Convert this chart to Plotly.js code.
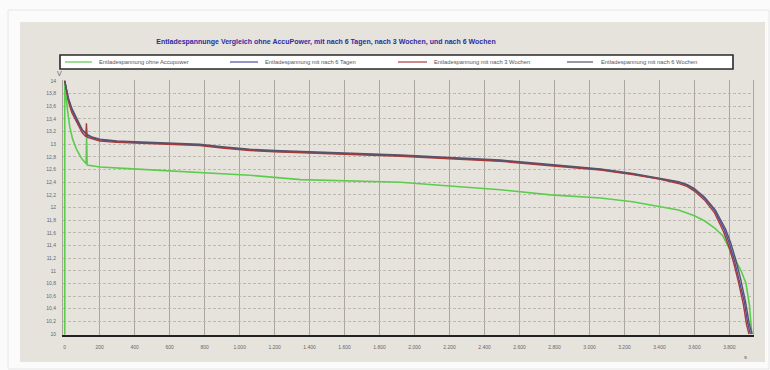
<!DOCTYPE html>
<html>
<head>
<meta charset="utf-8">
<script src="https://cdn.plot.ly/plotly-3.0.1.min.js"></script>
<style>html,body{margin:0;padding:0;background:#fbfbfb;}#chart{width:770px;height:370px;}</style>
</head>
<body>
<div id="chart"></div>
<script>
// ---- data ----
var seriesNames = ["Entladespannung ohne Accupower", "Entladespannung mit nach 6 Tagen", "Entladespannung mit nach 3 Wochen", "Entladespannung mit nach 6 Wochen"];

var tOhne = [0, 0, 5, 11, 20, 29, 45, 69, 95, 122, 125, 128, 200, 389, 600, 771, 1057, 1349, 1634, 1920, 2200, 2491, 2777, 3063, 3246, 3400, 3509, 3600, 3657, 3714, 3763, 3790, 3829, 3867, 3895, 3915, 3928];
var vOhne = [10.0, 14.0, 13.8, 13.62, 13.45, 13.27, 13.08, 12.91, 12.78, 12.69, 13.12, 12.67, 12.64, 12.61, 12.58, 12.55, 12.51, 12.44, 12.42, 12.40, 12.34, 12.28, 12.20, 12.15, 12.09, 12.02, 11.96, 11.87, 11.79, 11.68, 11.55, 11.40, 11.20, 11.00, 10.80, 10.45, 10.0];

var t6Tage = [0, 10, 20, 40, 68, 100, 130, 160, 200, 300, 400, 500, 600, 771, 900, 1057, 1200, 1400, 1634, 1920, 2200, 2491, 2777, 3063, 3246, 3400, 3509, 3560, 3600, 3657, 3714, 3771, 3800, 3829, 3857, 3886, 3905, 3920];
var v6Tage = [14.0, 13.85, 13.72, 13.55, 13.38, 13.22, 13.14, 13.10, 13.07, 13.04, 13.03, 13.02, 13.01, 12.99, 12.95, 12.91, 12.89, 12.87, 12.85, 12.82, 12.78, 12.74, 12.67, 12.60, 12.53, 12.46, 12.40, 12.35, 12.28, 12.15, 11.96, 11.65, 11.43, 11.16, 10.85, 10.50, 10.17, 10.0];

var t3Wochen = [0, 10, 20, 40, 68, 100, 120, 124, 128, 160, 200, 300, 400, 500, 600, 771, 900, 1057, 1200, 1400, 1634, 1920, 2200, 2491, 2777, 3063, 3246, 3400, 3509, 3560, 3600, 3657, 3714, 3766, 3795, 3824, 3852, 3880, 3898, 3912];
var v3Wochen = [14.0, 13.82, 13.68, 13.50, 13.34, 13.18, 13.12, 13.33, 13.11, 13.08, 13.05, 13.03, 13.02, 13.01, 13.00, 12.98, 12.94, 12.90, 12.88, 12.86, 12.84, 12.81, 12.77, 12.73, 12.66, 12.59, 12.52, 12.45, 12.38, 12.33, 12.26, 12.12, 11.92, 11.62, 11.40, 11.13, 10.82, 10.47, 10.15, 10.0];

var t6Wochen = [0, 10, 20, 40, 68, 100, 130, 160, 200, 300, 400, 500, 600, 771, 900, 1057, 1200, 1400, 1634, 1920, 2200, 2491, 2777, 3063, 3246, 3400, 3509, 3560, 3600, 3660, 3720, 3778, 3808, 3837, 3865, 3893, 3913, 3930];
var v6Wochen = [14.0, 13.86, 13.74, 13.57, 13.40, 13.23, 13.15, 13.11, 13.08, 13.05, 13.04, 13.03, 13.02, 13.00, 12.96, 12.92, 12.90, 12.88, 12.86, 12.83, 12.79, 12.75, 12.68, 12.61, 12.54, 12.47, 12.41, 12.36, 12.30, 12.16, 11.96, 11.66, 11.44, 11.17, 10.86, 10.50, 10.17, 10.0];

var xTickVals = [0, 200, 400, 600, 800, 1000, 1200, 1400, 1600, 1800, 2000, 2200, 2400, 2600, 2800, 3000, 3200, 3400, 3600, 3800];
var xTickText = ["0", "200", "400", "600", "800", "1.000", "1.200", "1.400", "1.600", "1.800", "2.000", "2.200", "2.400", "2.600", "2.800", "3.000", "3.200", "3.400", "3.600", "3.800"];
var yTickVals = [10, 10.2, 10.4, 10.6, 10.8, 11, 11.2, 11.4, 11.6, 11.8, 12, 12.2, 12.4, 12.6, 12.8, 13, 13.2, 13.4, 13.6, 13.8, 14];
var yTickText = ["10", "10,2", "10,4", "10,6", "10,8", "11", "11,2", "11,4", "11,6", "11,8", "12", "12,2", "12,4", "12,6", "12,8", "13", "13,2", "13,4", "13,6", "13,8", "14"];

var chartTitle = "Entladespannunge Vergleich ohne AccuPower, mit nach 6 Tagen, nach 3 Wochen, und nach 6 Wochen";
var seriesColors = ["#5ccc4c", "#4d4da6", "#a83a3a", "#55556a"];

// ---- layout helpers ----
var L = 63, R = 17, T = 80, B = 35, W = 770, H = 370;
var pw = W - L - R, ph = H - T - B;
function px(x) { return (x - L) / pw; }
function py(y) { return (H - B - y) / ph; }

var traces = [
  {x: tOhne, y: vOhne, name: seriesNames[0], mode: "lines", line: {color: seriesColors[0], width: 1.6}},
  {x: t6Tage, y: v6Tage, name: seriesNames[1], mode: "lines", line: {color: seriesColors[1], width: 1.4}},
  {x: t3Wochen, y: v3Wochen, name: seriesNames[2], mode: "lines", line: {color: seriesColors[2], width: 1.4}},
  {x: t6Wochen, y: v6Wochen, name: seriesNames[3], mode: "lines", line: {color: seriesColors[3], width: 1.4}}
];

var legLineX = [[65, 92], [230, 258], [398, 427], [567, 593]];
var legTextX = [97, 263, 432, 599];

var shapes = [
  {type: "rect", xref: "paper", yref: "paper", x0: px(8), x1: px(769), y0: py(369), y1: py(10), line: {color: "#e6e6e6", width: 1}, fillcolor: "#fbfbfb", layer: "below"},
  {type: "rect", xref: "paper", yref: "paper", x0: px(20), x1: px(765), y0: py(362), y1: py(22), line: {width: 0}, fillcolor: "#e6e3dc", layer: "below"},
  {type: "rect", xref: "paper", yref: "paper", x0: px(60), x1: px(733), y0: py(69), y1: py(55), line: {color: "#2a2a2a", width: 1.6}, fillcolor: "#ffffff"}
];
var annotations = [
  {xref: "paper", yref: "paper", x: px(59), y: py(73), text: "V", showarrow: false, font: {size: 7, color: "#666", family: "Liberation Sans"}, xanchor: "center", yanchor: "middle"},
  {xref: "paper", yref: "paper", x: px(745), y: py(357), text: "s", showarrow: false, font: {size: 6, color: "#666", family: "Liberation Sans"}, xanchor: "center", yanchor: "middle"}
];
for (var i = 0; i < 4; i++) {
  shapes.push({type: "line", xref: "paper", yref: "paper", x0: px(legLineX[i][0]), x1: px(legLineX[i][1]), y0: py(62), y1: py(62), line: {color: seriesColors[i], width: 1.2}});
  annotations.push({xref: "paper", yref: "paper", x: px(legTextX[i]), y: py(62), text: seriesNames[i], showarrow: false, xanchor: "left", yanchor: "middle", font: {size: 5.8, color: "#555", family: "Liberation Sans"}});
}

var layout = {
  width: W, height: H,
  margin: {l: L, r: R, t: T, b: B},
  paper_bgcolor: "#fbfbfb",
  plot_bgcolor: "#e6e3dc",
  showlegend: false,
  title: {text: "<b>" + chartTitle + "</b>", xref: "container", yref: "container", x: 326 / W, y: 1 - 42 / H, xanchor: "center", yanchor: "middle", font: {size: 7, color: "#2b2ba3", family: "Liberation Sans"}},
  xaxis: {
    range: [-10, 3935], tickvals: xTickVals, ticktext: xTickText,
    showgrid: true, gridcolor: "#aaa69e", gridwidth: 1,
    zeroline: false, showline: true, linecolor: "#222", linewidth: 2,
    ticks: "", ticklabelstandoff: 6,
    tickfont: {size: 5, color: "#666", family: "Liberation Sans"}
  },
  yaxis: {
    range: [9.985, 14.015], tickvals: yTickVals, ticktext: yTickText,
    showgrid: true, gridcolor: "#bcb8b0", gridwidth: 1, griddash: "3px,2px",
    zeroline: false, showline: true, mirror: true, linecolor: "#aaa69e", linewidth: 1,
    ticks: "", ticklabelstandoff: 5,
    tickfont: {size: 5, color: "#666", family: "Liberation Sans"}
  },
  shapes: shapes,
  annotations: annotations
};

Plotly.newPlot("chart", traces, layout, {displayModeBar: false, staticPlot: true});
</script>
</body>
</html>
